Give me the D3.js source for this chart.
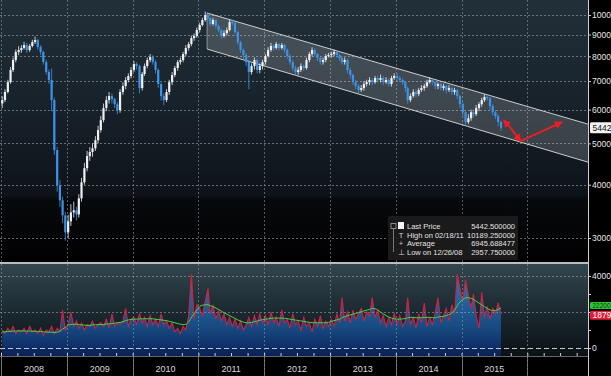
<!DOCTYPE html>
<html>
<head>
<meta charset="utf-8">
<script src="https://cdn.jsdelivr.net/npm/d3@7"></script>
<style>
  html, body { margin: 0; padding: 0; background: #000; overflow: hidden; }
</style>
</head>
<body>
<div id="chart"></div>
<script>
// half-month bars, Jan 2008 .. Jul 2015
var firstOpen = 6200;
var closes = [
  6317,6600,6959,7430,7842,8190,8277,8370,8504,8277,8460,8640,8736,8413,8190,7756,7350,7041,6317,4820,3988,3677,3390,3093,
  3282,3445,3483,3408,3716,4052,4373,4668,4772,4869,5086,5373,5668,6050,6317,6456,6350,6181,5981,6600,6815,7041,7194,7430,
  7673,7592,6741,7272,7592,7842,7966,7756,7430,6889,6456,6317,6600,6959,7233,7510,7756,7842,8100,8370,8550,8830,8926,9222,
  9474,9734,10000,9839,9525,9734,9423,9222,8926,9072,9222,9630,9580,9121,8640,8277,8056,7756,7350,7592,7842,7430,7592,7756,
  8016,8277,8460,8370,8550,8370,8504,8277,8016,7756,7510,7350,7430,7592,7510,7842,8100,8277,8100,7926,7756,7842,8016,8056,
  8100,8190,8056,7926,7756,7842,7430,7233,6959,6815,6669,6741,6889,6959,7041,6959,7117,7041,7117,6959,7041,6889,7117,7194,
  7117,7041,6959,6741,6317,6456,6600,6526,6669,6741,6815,6959,7041,6959,6815,6889,6741,6815,6669,6741,6600,6669,6456,6181,
  5918,5610,5729,5918,5854,6050,6181,6317,6421,6385,6115,5918,5792,5610,5442.5
];
var highs = [
  6450,6700,7050,7550,7950,8300,8450,8500,8650,8600,8550,8750,8900,8800,8500,8250,7850,7450,7500,6400,4900,4100,3750,3450,
  3400,3600,3650,3550,3800,4150,4500,4800,4900,5000,5200,5500,5800,6200,6450,6600,6550,6400,6250,6700,6950,7150,7300,7550,
  7800,7750,7650,7350,7700,7950,8100,8050,7850,7500,6950,6550,6700,7050,7350,7600,7850,7950,8200,8500,8650,8950,9050,9350,
  9600,9850,10189,10100,9900,9850,9800,9500,9300,9200,9350,9750,9750,9650,9200,8700,8350,8150,7850,7700,7950,7900,7700,7850,
  8100,8400,8600,8550,8650,8600,8600,8550,8350,8100,7850,7600,7550,7700,7650,7950,8200,8400,8350,8150,8000,7950,8100,8150,
  8200,8300,8250,8100,8000,7950,7900,7500,7300,7050,6900,6850,7000,7050,7150,7100,7200,7200,7250,7200,7150,7100,7200,7300,
  7300,7200,7100,7000,6800,6550,6700,6700,6750,6850,6900,7050,7150,7100,7000,6950,6950,6900,6850,6850,6800,6750,6700,6500,
  6250,5950,5850,6000,6000,6150,6250,6400,6520,6500,6420,6180,5980,5850,5650
];
var lows = [
  6050,6250,6550,6900,7350,7750,8050,8150,8300,8150,8200,8400,8550,8300,8050,7650,7250,6900,5950,4700,3850,3550,3250,2958,
  3000,3200,3350,3300,3350,3650,4000,4300,4550,4650,4800,5000,5300,5600,5950,6200,6200,6050,5850,5900,6500,6700,6950,7100,
  7350,7450,6550,6650,7200,7500,7750,7650,7300,6750,6300,6150,6250,6500,6850,7150,7400,7650,7750,8000,8250,8450,8700,8850,
  9100,9400,9650,9700,9400,9450,9300,9100,8800,8850,8950,9150,9450,9000,8500,8150,7900,7600,6700,7250,7450,7300,7300,7450,
  7650,7950,8200,8250,8300,8250,8300,8150,7900,7650,7400,7200,7250,7350,7400,7450,7750,8000,8000,7800,7650,7650,7750,7950,
  7950,8000,7950,7800,7650,7650,7300,7100,6850,6700,6550,6600,6650,6800,6850,6850,6900,6950,6950,6850,6900,6800,6800,7050,
  7000,6950,6850,6600,6200,6250,6400,6400,6450,6600,6650,6750,6900,6850,6700,6700,6650,6650,6550,6600,6500,6500,6350,6050,
  5800,5500,5550,5650,5750,5800,5950,6100,6250,6300,6000,5820,5700,5500,5350
];
// volume, thousands
var volumes = [
  10,8,11,9,12,8,10,9,11,8,12,9,10,8,11,7,10,9,12,8,11,9,21,10,
  13,20,12,15,11,14,10,13,12,15,11,13,14,12,16,11,19,12,14,13,15,22,12,16,
  17,13,19,14,17,12,18,13,16,12,19,13,15,11,14,9,11,8,12,10,18,41,16,24,
  22,18,26,33,19,24,16,21,15,19,13,17,12,16,11,15,10,13,17,12,18,13,19,14,
  18,13,20,14,17,12,21,14,16,11,19,13,15,10,17,12,14,9,16,12,18,11,15,12,
  16,12,19,14,28,15,20,14,21,16,19,22,15,20,18,28,17,21,14,18,12,17,13,19,
  13,18,12,15,28,13,17,11,19,14,25,12,17,13,20,28,14,18,22,15,24,19,41,33,
  26,38,29,22,30,18,11,31,17,23,16,22,19,25,18.79
];
var volumeAvg = [
  9,9,9.2,9.3,9.4,9.4,9.5,9.5,9.5,9.4,9.4,9.3,9.3,9.2,9.2,9,8.8,8.8,8.8,8.6,8.8,9.4,10.5,11.5,
  12.8,13,13.2,13.2,13,12.8,12.7,12.6,12.6,12.8,12.9,13,13,13.1,13.3,13.4,13.6,13.8,14,14.2,14.6,15.2,15.6,15.8,
  16,16,16.2,16.2,16.3,16.2,16.3,16.2,16,15.8,15.6,15.4,15.2,14.8,14.4,14,13.6,13.2,13,13.2,14.5,17,19,21,
  23,23.8,24,24,23.5,23,22.2,21.4,20.5,19.6,18.8,18,17.2,16.4,15.6,15,14.4,14,14,14.2,14.6,15,15.4,15.8,
  16,16.2,16.5,16.6,16.7,16.6,16.6,16.5,16.3,16,15.8,15.5,15.3,15,14.8,14.5,14.3,14.1,14,14,14,14,14,14.2,
  14.8,15.2,15.6,16,16.8,17.4,18,18.4,18.8,19.2,19.6,20.2,20.6,21,21.4,22,21.8,21,20,19,18,17.2,16.6,16.2,
  16,16,16.2,16.3,16.8,17,17,16.8,16.8,16.8,17,17,17,16.8,16.8,17.2,17.4,17.6,18,18.5,19.5,21,23.5,25.5,
  27,27.8,28,27.6,27,26,25,24,23,22,21.2,20.8,20.8,21.4,22.2
];
var years = [2008, 2009, 2010, 2011, 2012, 2013, 2014, 2015];
var priceTicks = [3000, 4000, 5000, 6000, 7000, 8000, 9000, 10000];
var volumeTicks = [0, 10000, 20000, 30000, 40000];
var volumeLabels = [0, 40000];
var channelUpper = [['2011-02-18', 10109], ['2016-12-03', 5548]];
var channelLower = [['2011-02-18', 8321], ['2016-12-03', 4518]];
var arrows = [
  [['2015-10-01', 5429], ['2015-08-23', 5669]],
  [['2015-10-01', 5429], ['2015-11-25', 5061]],
  [['2015-11-25', 5061], ['2016-07-11', 5608]]
];
var legendRows = [
  ['Last Price', '5442.500000'],
  ['High on 02/18/11', '10189.250000'],
  ['Average', '6945.688477'],
  ['Low on 12/26/08', '2957.750000']
];

(function(){
    var width = 611;
    var height = 376;
    var plotRight = 588;
    var top = {y0: 0, y1: 256};
    var low = {y0: 264, y1: 356};
    var font = '"Liberation Sans", Arial, sans-serif';
    var parse = d3.timeParse('%Y-%m-%d');

    var svg = d3.select('#chart')
        .append('svg')
            .attr('width', width)
            .attr('height', height)
            .style('display', 'block')
            .style('background', '#000')
            .style('font-family', font);

    var defs = svg.append('defs');

    var bgTop = defs.append('linearGradient')
        .attr('id', 'bgTop').attr('x1', 0).attr('x2', 0).attr('y1', 0).attr('y2', 1);
    [[0, '#22303a'], [0.4, '#18222b'], [0.76, '#0e1319'], [0.78, '#07090c'], [1, '#020203']].forEach(function(s){
        bgTop.append('stop').attr('offset', s[0]).attr('stop-color', s[1]);
    });

    var bgLow = defs.append('linearGradient')
        .attr('id', 'bgLow').attr('x1', 0).attr('x2', 0).attr('y1', 0).attr('y2', 1);
    [[0, '#33454d'], [0.5, '#1c2a31'], [1, '#0b1216']].forEach(function(s){
        bgLow.append('stop').attr('offset', s[0]).attr('stop-color', s[1]);
    });

    var volFill = defs.append('linearGradient')
        .attr('id', 'volFill').attr('gradientUnits', 'userSpaceOnUse')
        .attr('x1', 0).attr('x2', 0).attr('y1', 285).attr('y2', 356);
    [[0, '#2c6fae'], [0.6, '#174a80'], [0.85, '#10306a'], [1, '#0b1f55']].forEach(function(s){
        volFill.append('stop').attr('offset', s[0]).attr('stop-color', s[1]);
    });

    defs.append('marker')
        .attr('id', 'arrowHead')
        .attr('viewBox', '0 0 8 8')
        .attr('refX', 7).attr('refY', 4)
        .attr('markerWidth', 8).attr('markerHeight', 8)
        .attr('markerUnits', 'userSpaceOnUse')
        .attr('orient', 'auto')
        .append('path')
            .attr('d', 'M0,0 L8,4 L0,8 z')
            .attr('fill', '#ee1c24');

    defs.append('clipPath').attr('id', 'plotClip')
        .append('rect').attr('x', 0).attr('y', 0).attr('width', plotRight).attr('height', height);

    // scales
    var x = d3.scaleTime()
        .domain([new Date(2008, 0, 1), new Date(2016, 11, 3)])
        .range([1, plotRight]);

    var yPrice = d3.scaleLog()
        .domain([2722, 10845])
        .range([top.y1, top.y0]);

    var yVol = d3.scaleLinear()
        .domain([-4444, 46667])
        .range([low.y1, low.y0]);

    var dates = closes.map(function(c, i){
        return new Date(2008, Math.floor(i / 2), i % 2 ? 23 : 8);
    });

    var bars = closes.map(function(c, i){
        return {
            date: dates[i],
            open: i === 0 ? firstOpen : closes[i - 1],
            close: c,
            high: highs[i],
            low: lows[i],
            vol: volumes[i] * 1000,
            avg: volumeAvg[i] * 1000
        };
    });

    // backgrounds
    svg.append('rect')
        .attr('x', 0).attr('y', top.y0)
        .attr('width', plotRight).attr('height', top.y1 - top.y0)
        .attr('fill', 'url(#bgTop)');

    svg.append('rect')
        .attr('x', 0).attr('y', low.y0)
        .attr('width', plotRight).attr('height', low.y1 - low.y0)
        .attr('fill', 'url(#bgLow)');

    var plot = svg.append('g').attr('clip-path', 'url(#plotClip)');

    // grid
    plot.selectAll('.pgrid')
        .data(priceTicks)
        .enter()
        .append('line')
        .attr('x1', 0).attr('x2', plotRight)
        .attr('y1', function(d){ return Math.round(yPrice(d)) + 0.5; })
        .attr('y2', function(d){ return Math.round(yPrice(d)) + 0.5; })
        .attr('stroke', '#8a9198')
        .attr('stroke-opacity', 0.7)
        .attr('stroke-dasharray', '2,2');

    // volume area and lines
    var area = d3.area()
        .x(function(d){ return x(d.date); })
        .y0(low.y1)
        .y1(function(d){ return yVol(d.vol); });

    plot.append('path')
        .datum(bars)
        .attr('d', area)
        .attr('fill', 'url(#volFill)');

    plot.selectAll('.vgrid')
        .data([20000, 40000])
        .enter()
        .append('line')
        .attr('x1', 0).attr('x2', plotRight)
        .attr('y1', function(d){ return Math.round(yVol(d)) + 0.5; })
        .attr('y2', function(d){ return Math.round(yVol(d)) + 0.5; })
        .attr('stroke', '#9aa3a8')
        .attr('stroke-opacity', 0.6)
        .attr('stroke-dasharray', '2,2');

    plot.append('line')
        .attr('x1', 0).attr('x2', plotRight)
        .attr('y1', Math.round(yVol(0)) + 0.5).attr('y2', Math.round(yVol(0)) + 0.5)
        .attr('stroke', '#c8c8c8')
        .attr('stroke-dasharray', '5,3');

    plot.append('path')
        .datum(bars)
        .attr('d', d3.line()
            .x(function(d){ return x(d.date); })
            .y(function(d){ return yVol(d.vol); }))
        .attr('fill', 'none')
        .attr('stroke', '#d3203f')
        .attr('stroke-width', 1.1);

    plot.append('path')
        .datum(bars)
        .attr('d', d3.line()
            .curve(d3.curveMonotoneX)
            .x(function(d){ return x(d.date); })
            .y(function(d){ return yVol(d.avg); }))
        .attr('fill', 'none')
        .attr('stroke', '#43d64a')
        .attr('stroke-width', 1);

    // year lines
    var yearStarts = years.concat([2016]).map(function(y){ return new Date(y, 0, 1); });
    plot.selectAll('.ygrid')
        .data(yearStarts)
        .enter()
        .append('line')
        .attr('x1', function(d){ return Math.round(x(d)) + 0.5; })
        .attr('x2', function(d){ return Math.round(x(d)) + 0.5; })
        .attr('y1', 0).attr('y2', height)
        .attr('stroke', '#8a9198')
        .attr('stroke-opacity', 0.6)
        .attr('stroke-dasharray', '2,2');

    // channel
    var chanPts = channelUpper.concat(channelLower.slice().reverse()).map(function(p){
        return [x(parse(p[0])), yPrice(p[1])];
    });
    plot.append('polygon')
        .attr('points', chanPts.map(function(p){ return p.join(','); }).join(' '))
        .attr('fill', '#ffffff')
        .attr('fill-opacity', 0.17)
        .attr('stroke', 'none');

    [channelUpper, channelLower].forEach(function(c){
        plot.append('line')
            .attr('x1', x(parse(c[0][0]))).attr('y1', yPrice(c[0][1]))
            .attr('x2', x(parse(c[1][0]))).attr('y2', yPrice(c[1][1]))
            .attr('stroke', '#e6e6e6')
            .attr('stroke-width', 1)
            .attr('stroke-opacity', 0.85);
    });
    plot.append('line')
        .attr('x1', x(parse(channelUpper[0][0]))).attr('y1', yPrice(channelUpper[0][1]))
        .attr('x2', x(parse(channelLower[0][0]))).attr('y2', yPrice(channelLower[0][1]))
        .attr('stroke', '#e6e6e6')
        .attr('stroke-opacity', 0.5);

    // price bars
    var candle = plot.selectAll('.bar')
        .data(bars)
        .enter()
        .append('g')
        .attr('class', 'bar');

    function barColour(d){
        return d.close >= d.open ? '#eef0f2' : '#3f93e6';
    }

    candle.append('line')
        .attr('x1', function(d){ return x(d.date); })
        .attr('x2', function(d){ return x(d.date); })
        .attr('y1', function(d){ return yPrice(d.high); })
        .attr('y2', function(d){ return yPrice(d.low); })
        .attr('stroke', barColour)
        .attr('stroke-width', 0.8);

    candle.append('rect')
        .attr('x', function(d){ return x(d.date) - 1.1; })
        .attr('width', 2.2)
        .attr('y', function(d){ return yPrice(Math.max(d.open, d.close)); })
        .attr('height', function(d){
            return Math.max(1, Math.abs(yPrice(d.open) - yPrice(d.close)));
        })
        .attr('fill', barColour);

    // arrows
    arrows.forEach(function(a){
        plot.append('line')
            .attr('x1', x(parse(a[0][0]))).attr('y1', yPrice(a[0][1]))
            .attr('x2', x(parse(a[1][0]))).attr('y2', yPrice(a[1][1]))
            .attr('stroke', '#ee1c24')
            .attr('stroke-width', 2)
            .attr('marker-end', 'url(#arrowHead)');
    });

    // panel separator
    svg.append('rect')
        .attr('x', 0).attr('y', top.y1)
        .attr('width', plotRight).attr('height', low.y0 - top.y1 - 2)
        .attr('fill', '#000');
    svg.append('line')
        .attr('x1', 0).attr('x2', plotRight)
        .attr('y1', low.y0 - 1).attr('y2', low.y0 - 1)
        .attr('stroke', '#b9bdbf')
        .attr('stroke-width', 2);
    svg.append('line')
        .attr('x1', 0).attr('x2', plotRight)
        .attr('y1', low.y1 + 0.5).attr('y2', low.y1 + 0.5)
        .attr('stroke', '#666');

    // year lines through gaps again
    svg.selectAll('.ygrid2')
        .data(yearStarts)
        .enter()
        .append('line')
        .attr('x1', function(d){ return Math.round(x(d)) + 0.5; })
        .attr('x2', function(d){ return Math.round(x(d)) + 0.5; })
        .attr('y1', top.y1).attr('y2', low.y0 - 2)
        .attr('stroke', '#8a9198')
        .attr('stroke-opacity', 0.6)
        .attr('stroke-dasharray', '2,2');
    svg.selectAll('.ygrid3')
        .data(yearStarts)
        .enter()
        .append('line')
        .attr('x1', function(d){ return Math.round(x(d)) + 0.5; })
        .attr('x2', function(d){ return Math.round(x(d)) + 0.5; })
        .attr('y1', low.y1).attr('y2', height)
        .attr('stroke', '#8a9198')
        .attr('stroke-opacity', 0.7);

    // bottom axis: quarter ticks + year labels
    var xAxis = d3.axisTop(x)
        .ticks(d3.timeMonth.every(3))
        .tickSize(3)
        .tickFormat('');
    var xg = svg.append('g')
        .attr('transform', 'translate(0,' + low.y1 + ')')
        .call(xAxis);
    xg.select('.domain').remove();
    xg.selectAll('line').attr('stroke', '#cfcfcf').attr('stroke-width', 1);

    svg.selectAll('.yearLabel')
        .data(years)
        .enter()
        .append('text')
        .attr('x', function(d){ return x(new Date(d, 6, 2)); })
        .attr('y', 372)
        .attr('text-anchor', 'middle')
        .attr('font-size', '9px')
        .attr('fill', '#d8d8d8')
        .text(function(d){ return d; });

    // legend
    var lg = svg.append('g');
    lg.append('rect')
        .attr('x', 388).attr('y', 216)
        .attr('width', 130).attr('height', 44)
        .attr('fill', '#1b1b1b')
        .attr('fill-opacity', 0.95);
    var rowY = d3.scalePoint().domain(d3.range(legendRows.length)).range([226, 252]);
    lg.append('line')
        .attr('x1', 393.5).attr('x2', 393.5)
        .attr('y1', 228).attr('y2', rowY(3))
        .attr('stroke', '#777');
    lg.append('rect')
        .attr('x', 391).attr('y', 223.5).attr('width', 5).attr('height', 5)
        .attr('fill', 'none').attr('stroke', '#888');
    lg.append('rect')
        .attr('x', 398).attr('y', 222).attr('width', 6).attr('height', 7)
        .attr('fill', '#f4f4f4');
    var glyphs = ['', 'T', '+', '\u22A5'];
    lg.selectAll('.glyph')
        .data(glyphs)
        .enter()
        .append('text')
        .attr('x', 401)
        .attr('y', function(d, i){ return rowY(i) + 3; })
        .attr('text-anchor', 'middle')
        .attr('font-size', '7.5px')
        .attr('fill', '#cfcfcf')
        .text(function(d){ return d; });
    lg.selectAll('.lname')
        .data(legendRows)
        .enter()
        .append('text')
        .attr('x', 407)
        .attr('y', function(d, i){ return rowY(i) + 3; })
        .attr('font-size', '7.5px')
        .attr('fill', '#e2e2e2')
        .text(function(d){ return d[0]; });
    lg.selectAll('.lval')
        .data(legendRows)
        .enter()
        .append('text')
        .attr('x', 515)
        .attr('y', function(d, i){ return rowY(i) + 3; })
        .attr('text-anchor', 'end')
        .attr('font-size', '7.5px')
        .attr('fill', '#e2e2e2')
        .text(function(d){ return d[1]; });

    // right axes
    svg.append('line')
        .attr('x1', plotRight + 0.5).attr('x2', plotRight + 0.5)
        .attr('y1', 0).attr('y2', height)
        .attr('stroke', '#d0d0d0');

    var pAxis = d3.axisRight(yPrice)
        .tickValues(priceTicks)
        .tickFormat(d3.format('d'))
        .tickSize(3)
        .tickPadding(1);
    var pg = svg.append('g')
        .attr('transform', 'translate(' + plotRight + ',0)')
        .call(pAxis);
    pg.select('.domain').remove();
    pg.selectAll('line').attr('stroke', '#d0d0d0');
    pg.selectAll('text').attr('fill', '#e6e6e6').attr('font-size', '8.5px').attr('font-family', font);

    var vAxis = d3.axisRight(yVol)
        .tickValues(volumeTicks)
        .tickFormat(function(d){ return volumeLabels.indexOf(d) >= 0 ? d : ''; })
        .tickSize(3)
        .tickPadding(1);
    var vg = svg.append('g')
        .attr('transform', 'translate(' + plotRight + ',0)')
        .call(vAxis);
    vg.select('.domain').remove();
    vg.selectAll('line').attr('stroke', '#d0d0d0');
    vg.selectAll('text').attr('fill', '#e6e6e6').attr('font-size', '8.5px').attr('font-family', font);

    // last value tags
    var last = bars[bars.length - 1];
    function tag(yv, h, size, text, bg, fg){
        var g = svg.append('g').attr('transform', 'translate(' + (plotRight + 2) + ',' + yv + ')');
        g.append('rect')
            .attr('x', 0).attr('y', -h / 2)
            .attr('width', 24).attr('height', h)
            .attr('rx', 1.5)
            .attr('fill', bg);
        g.append('text')
            .attr('x', 2.5).attr('y', size * 0.36)
            .attr('font-size', size + 'px')
            .attr('fill', fg)
            .text(text);
    }
    tag(yPrice(last.close), 11, 8.5, d3.format('d')(Math.floor(last.close)), '#f2f2f2', '#111');
    tag(yVol(last.avg) - 2.5, 7, 6.5, d3.format('d')(last.avg), '#2fc437', '#0d3d10');
    tag(yVol(last.vol) + 1, 9, 8.5, d3.format('d')(last.vol), '#e21d3a', '#fff');

})();
</script>
</body>
</html>
